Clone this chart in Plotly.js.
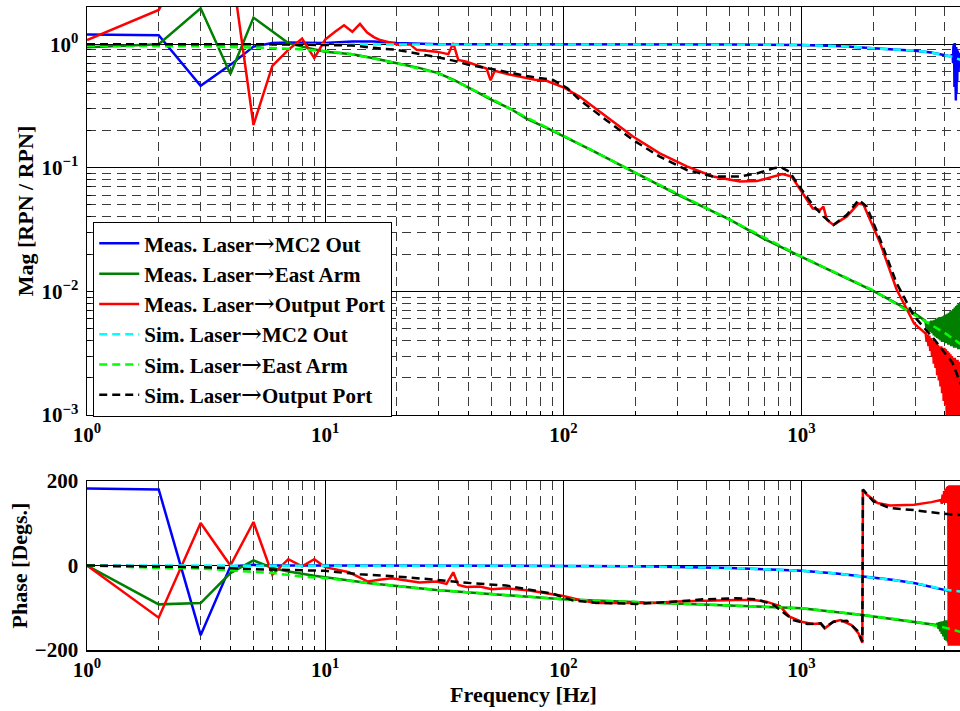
<!DOCTYPE html>
<html>
<head>
<meta charset="utf-8">
<script src="https://cdn.plot.ly/plotly-3.0.1.min.js"></script>
<style>body{margin:0;padding:0;background:#fff}#plot{width:960px;height:711px}</style>
</head>
<body>
<div id="plot"></div>
<script>
// ---------- Tick labels ----------
const xTickVals = [1, 10, 100, 1000];
const xTickText = ['10<sup>0</sup>', '10<sup>1</sup>', '10<sup>2</sup>', '10<sup>3</sup>'];
const magTickVals = [0.001, 0.01, 0.1, 1];
const magTickText = ['10<sup>\u22123</sup>', '10<sup>\u22122</sup>', '10<sup>\u22121</sup>', '10<sup>0</sup>'];
const phTickVals = [-200, 0, 200];
const phTickText = ['\u2212200', '0', '200'];

// ---------- Series names ----------
const names = [
  'Meas. Laser\u2192MC2 Out',
  'Meas. Laser\u2192East Arm',
  'Meas. Laser\u2192Output Port',
  'Sim. Laser\u2192MC2 Out',
  'Sim. Laser\u2192East Arm',
  'Sim. Laser\u2192Output Port'
];

// ---------- Measured Laser -> MC2 Out ----------
const fBlueMag = [1,2,3,4,5,6,7,8,9,10,13,16,20,30,50,100,200,500,1000,1500,2000,2500,3000,3500,4000,4200];
const blueMag  = [1.20,1.18,0.46,0.68,0.955,1.02,1.03,1.03,1.02,1.02,1.05,1.05,1.02,1.0,1.0,1.0,0.998,0.995,0.985,0.96,0.926,0.905,0.886,0.855,0.818,0.80];
const fBlueMagN = [4310,4325,4340,4355,4370,4385,4400,4415,4430,4445,4460,4475,4490,4505,4520,4535,4550,4565,4580,4595,4610,4625,4640,4655,4670,4685,4700];
const blueMagN  = [0.82,0.70,0.95,0.55,1.0,0.45,1.02,0.38,0.98,0.35,0.95,0.40,0.90,0.50,0.88,0.55,0.85,0.60,0.84,0.62,0.82,0.65,0.80,0.68,0.78,0.70,0.76];
const fBluePh = [1,2,3,4,5,6,8,10,20,50,100,200,300,500,700,1000,1400,1800,2400,3000,3500,4000,4150];
const bluePh  = [182,180,-165,-2,1.5,0,0,0,0,0,-1,-2,-3,-6,-9,-12.6,-19,-26,-34,-42,-50,-58,-60];

// ---------- Measured Laser -> East Arm ----------
const fGreenMag = [1,2,3,4,5,6,7,8,9,10,13,16,20,25,30,35,40,50,60,70,85,100,130,200,300,500,700,1000,1500,2000,2500,3000,3300];
const greenMag  = [0.944,1.0,1.95,0.574,1.64,1.26,1.02,0.955,0.91,0.87,0.83,0.77,0.70,0.64,0.58,0.51,0.445,0.354,0.30,0.25,0.21,0.18,0.14,0.0913,0.061,0.038,0.0265,0.0190,0.0131,0.0101,0.0080,0.0066,0.0058];
const fGreenMagN = [3320,3350,3380,3410,3440,3470,3500,3530,3560,3590,3620,3650,3680,3710,3740,3770,3800,3830,3860,3890,3920,3950,3980,4010,4040,4070,4100,4130,4160,4190,4220,4250,4280,4310,4340,4370,4400,4430,4460,4490,4520,4550,4580,4610,4640,4670,4700];
const greenMagN  = [0.0056,0.0050,0.0057,0.0048,0.0057,0.0047,0.0058,0.0046,0.0058,0.0044,0.0059,0.0043,0.0060,0.0042,0.0061,0.0041,0.0062,0.0040,0.0062,0.0039,0.0063,0.0039,0.0064,0.0038,0.0065,0.0038,0.0066,0.0037,0.0067,0.0037,0.0069,0.0036,0.0070,0.0036,0.0072,0.0035,0.0074,0.0035,0.0076,0.0035,0.0078,0.0034,0.0080,0.0034,0.0082,0.0034,0.0083];
const fGreenPh = [1,2,3,4,5,6,7,8,9,10,15.4,29.3,65.6,100,238,625,1000,1800,3000,3700];
const greenPh  = [0,-92,-89,-18,12,-6,-14,-20,-24.5,-27.6,-42,-58,-72,-80,-88,-96,-101,-117,-133,-141];
const fGreenPhN = [3730,3760,3790,3820,3850,3880,3910,3940,3970,4000,4030,4060,4090,4120,4150,4180,4210,4240,4270,4300,4330,4360,4390,4420,4450,4480,4510,4540,4570,4600,4630,4660,4700];
const greenPhN  = [-136,-150,-134,-156,-133,-162,-132,-168,-131,-174,-130,-178,-130,-182,-129,-185,-129,-186,-129,-186,-129,-186,-129,-186,-129,-186,-129,-186,-129,-186,-129,-186,-158];

// ---------- Measured Laser -> Output Port ----------
const fRedMag = [1,2,3,4,5,6,7,8,9,10,11,12,13,14,15,16,17,18,19,20.5,22.7,24.2,29.3,32.9,34.5,36.2,39.2,43.3,47.6,49.5,51.5,57.6,61.5,76,85,90.5,100,117,151,196,254,330,425,551,649,763,832,909,990,1113,1195,1235,1278,1362,1550,1735,1821,2140,2505,2970,3300];
const redMag  = [1.08,1.89,7.5,4.9,0.222,0.667,0.90,1.11,0.77,1.09,1.26,1.42,1.26,1.46,1.24,1.14,1.08,1.05,1.02,0.985,1.0,0.90,0.87,0.83,1.02,0.745,0.72,0.68,0.635,0.51,0.61,0.575,0.56,0.515,0.505,0.48,0.448,0.377,0.259,0.179,0.131,0.1025,0.085,0.0775,0.078,0.085,0.089,0.085,0.066,0.047,0.0455,0.0486,0.0379,0.0345,0.0404,0.0515,0.0502,0.0245,0.0104,0.0055,0.0046];
const fRedMagN = [3320,3350,3380,3410,3440,3470,3500,3530,3560,3590,3620,3650,3680,3710,3740,3770,3800,3830,3860,3890,3920,3950,3980,4010,4040,4070,4100,4130,4160,4190,4220,4250,4280,4310,4340,4370,4400,4430,4460,4490,4520,4550,4580,4610,4640,4670,4700];
const redMagN  = [0.0046,0.0039,0.0045,0.0036,0.0044,0.0033,0.0042,0.0030,0.0040,0.0026,0.0039,0.0024,0.0038,0.0021,0.0037,0.0019,0.0036,0.0017,0.0036,0.0015,0.0035,0.0013,0.0035,0.0012,0.0034,0.0010,0.0033,0.0008,0.0032,0.0006,0.0031,0.0005,0.0030,0.0004,0.0029,0.0003,0.0029,0.0003,0.0028,0.0003,0.0028,0.0003,0.0027,0.0003,0.0027,0.0003,0.0026];
const fRedPh = [1,2,3,4,5,6,7,8,9,10,12.6,15.1,16.9,19,21.9,24.9,29.3,32.3,34.5,36.2,39.2,44.5,50,57.6,72,85,100,117,137,172,238,298,385,532,625,711,811,890,1000,1114,1203,1250,1362,1460,1620,1735,1800,1810,1877,2085,2350,2970,3510,3850];
const redPh  = [0,-123.5,100.7,0,103,-22,15,-2,15,-4,-16,-38,-34,-30,-35.6,-40,-38,-43.5,-16,-46,-51,-50,-56,-54,-59,-66,-72,-81.5,-89,-89,-89,-85.5,-83,-81.5,-81.5,-85.5,-96,-121,-133,-138.5,-137,-149,-133,-129,-141,-161,-183,180,168,148,142,144,150,155];
const fRedPhN = [3880,3910,3940,3970,4000,4030,4060,4090,4110,4130,4150,4175,4200,4225,4250,4275,4300,4325,4350,4375,4400,4425,4450,4475,4500,4525,4550,4575,4600,4625,4650,4675,4700];
const redPhN  = [146,168,148,176,148,182,148,186,150,188,-190,190,-190,190,-190,190,-190,190,-190,190,-190,190,-190,190,-190,190,-190,190,-190,190,-190,190,-190];

// ---------- Simulated Laser -> MC2 Out ----------
const fCyanMag = [1,100,300,500,700,1000,1500,2000,2500,3000,3500,4000,4300,4700];
const cyanMag  = [1.0,1.0,0.998,0.995,0.99,0.985,0.96,0.926,0.905,0.886,0.855,0.818,0.79,0.74];
const fCyanPh = [1,10,50,100,200,300,500,700,1000,1400,1800,2400,3000,3500,4000,4700];
const cyanPh  = [0,0,-0.5,-1,-2,-3,-6,-9,-12.6,-19,-26,-34,-42,-50,-57,-62];

// ---------- Simulated Laser -> East Arm ----------
const fLimeMag = [1,2,3,5,7,10,13,20,30,40,50,70,100,200,500,1000,2000,3000,4000,4700];
const limeMag  = [0.97,0.965,0.96,0.94,0.92,0.88,0.83,0.70,0.58,0.445,0.36,0.255,0.182,0.0913,0.038,0.0191,0.0102,0.0064,0.0046,0.0037];
const fLimePh = [1,2,3,5,6,8,10,15.4,29.3,65.6,100,238,625,1000,1800,3000,4000,4700];
const limePh  = [0,-6,-7,-14,-18,-26,-30,-42,-58,-72,-80,-88,-96,-101,-117,-133,-147,-158];

// ---------- Simulated Laser -> Output Port ----------
const fBlackMag = [1,5,10,13,16.4,20,30,34.5,40,50,70,90.5,104,117,151,196,254,330,425,551,649,763,820,889,990,1113,1235,1362,1550,1735,1877,2140,2505,2970,3620,4300,4700];
const blackMag  = [1.0,1.0,0.985,0.975,0.93,0.90,0.78,0.736,0.68,0.63,0.553,0.513,0.44,0.354,0.244,0.168,0.123,0.096,0.085,0.085,0.09,0.099,0.101,0.093,0.0685,0.0501,0.0404,0.0345,0.0416,0.055,0.0486,0.0262,0.0117,0.0063,0.00405,0.00265,0.0017];
const fBlackPh = [1,2,3,5,8,10,14,20,29.3,41.6,57.6,74,90.5,110,137,203,298,385,532,649,763,866,923,1058,1203,1250,1362,1550,1710,1800,1810,2000,2350,2970,3870,4700];
const blackPh  = [0,-2,-4,-8.6,-11,-12.6,-20.5,-26,-34,-42,-47.5,-58,-67,-83,-88,-91,-85.5,-80,-77.5,-80,-93,-117,-129,-138.5,-137,-147,-133,-131,-153,-180,180,152,136,131,123,119];

// ---------- Build traces ----------
const colors = ['#0000ff', '#007f00', '#ff0000', '#00ffff', '#00ff00', '#000000'];
const dashes = ['solid', 'solid', 'solid', '8px,5px', '8px,5px', '8px,5px'];

const magX = [fBlueMag.concat(fBlueMagN), fGreenMag.concat(fGreenMagN), fRedMag.concat(fRedMagN), fCyanMag, fLimeMag, fBlackMag];
const magY = [blueMag.concat(blueMagN), greenMag.concat(greenMagN), redMag.concat(redMagN), cyanMag, limeMag, blackMag];
const phX = [fBluePh, fGreenPh.concat(fGreenPhN), fRedPh.concat(fRedPhN), fCyanPh, fLimePh, fBlackPh];
const phY = [bluePh, greenPh.concat(greenPhN), redPh.concat(redPhN), cyanPh, limePh, blackPh];

function legendLabel(s) {
  const parts = s.split('\u2192');
  return '<b>' + parts[0] + '<span style="font-family:DejaVu Serif;font-weight:normal;font-size:25px">\u2192</span>' + parts[1] + '</b>';
}

const traces = [];
for (let i = 0; i < 6; i++) {
  traces.push({
    x: magX[i], y: magY[i], type: 'scatter', mode: 'lines',
    name: legendLabel(names[i]), legendgroup: 'g' + i,
    line: {color: colors[i], width: 2.5, dash: dashes[i]},
    xaxis: 'x', yaxis: 'y', hoverinfo: 'skip'
  });
}
for (let i = 0; i < 6; i++) {
  traces.push({
    x: phX[i], y: phY[i], type: 'scatter', mode: 'lines',
    name: names[i], legendgroup: 'g' + i, showlegend: false,
    line: {color: colors[i], width: 2.5, dash: dashes[i]},
    xaxis: 'x2', yaxis: 'y2', hoverinfo: 'skip'
  });
}

const minorX = [2,3,4,5,6,7,8,9,20,30,40,50,60,70,80,90,200,300,400,500,600,700,800,900,2000,3000,4000];
const minorMag = [0.002,0.003,0.004,0.005,0.006,0.007,0.008,0.009,0.02,0.03,0.04,0.05,0.06,0.07,0.08,0.09,0.2,0.3,0.4,0.5,0.6,0.7,0.8,0.9];

const fontFam = '"Liberation Serif", "Times New Roman", "DejaVu Serif", serif';
const minorStyle = {showgrid: true, gridcolor: '#3a3a3a', griddash: '9px,6px', gridwidth: 1, ticks: 'inside', ticklen: 4, tickcolor: '#000'};

function xax(anchor, withTitle) {
  const a = {
    type: 'log', range: [0, 3.6653], anchor: anchor, domain: [0, 1],
    tickmode: 'array', tickvals: xTickVals, ticktext: xTickText,
    ticks: 'inside', ticklen: 7, tickcolor: '#000',
    showgrid: true, gridcolor: '#000', gridwidth: 1,
    showline: true, linecolor: '#000', linewidth: 1.5, mirror: true,
    zeroline: false, minor: Object.assign({tickvals: minorX}, minorStyle), automargin: false,
    tickfont: {family: fontFam, size: 21, color: '#000', weight: 'bold'}
  };
  if (withTitle) a.title = {text: '<b>Frequency [Hz]</b>', font: {family: fontFam, size: 22, color: '#000'}, standoff: 2};
  return a;
}

const layout = {
  width: 960, height: 711,
  margin: {l: 87, r: 0, t: 7, b: 61},
  paper_bgcolor: '#fff', plot_bgcolor: '#fff',
  font: {family: fontFam, size: 18, color: '#000', weight: 'bold'},
  showlegend: true,
  legend: {
    x: 0.0069, y: 0.6656, xanchor: 'left', yanchor: 'top',
    bgcolor: '#fff', bordercolor: '#000', borderwidth: 1.2,
    font: {family: fontFam, size: 21, color: '#000'},
    tracegroupgap: 0, itemwidth: 40
  },
  xaxis: xax('y', false),
  xaxis2: xax('y2', true),
  yaxis: {
    type: 'log', range: [-3, 0.3007], domain: [0.36548, 1], anchor: 'x',
    tickmode: 'array', tickvals: magTickVals, ticktext: magTickText,
    ticks: 'inside', ticklen: 7, tickcolor: '#000', ticklabelstandoff: 3,
    showgrid: true, gridcolor: '#000', gridwidth: 1,
    showline: true, linecolor: '#000', linewidth: 1.5, mirror: false,
    zeroline: false, automargin: false,
    minor: Object.assign({tickvals: minorMag}, minorStyle),
    tickfont: {family: fontFam, size: 21, color: '#000', weight: 'bold'},
    title: {text: '<b>Mag [RPN / RPN]</b>', font: {family: fontFam, size: 22, color: '#000'}, standoff: 2}
  },
  yaxis2: {
    range: [-200, 200], domain: [0, 0.26283], anchor: 'x2',
    tickmode: 'array', tickvals: phTickVals, ticktext: phTickText,
    ticks: 'inside', ticklen: 7, tickcolor: '#000', ticklabelstandoff: 3,
    showgrid: true, gridcolor: '#000', gridwidth: 1,
    showline: true, linecolor: '#000', linewidth: 1.5, mirror: false,
    zeroline: false, automargin: false,
    tickfont: {family: fontFam, size: 21, color: '#000', weight: 'bold'},
    title: {text: '<b>Phase [Degs.]</b>', font: {family: fontFam, size: 22, color: '#000'}, standoff: 1}
  }
};

Plotly.newPlot('plot', traces, layout, {displayModeBar: false, staticPlot: true});
</script>
</body>
</html>
